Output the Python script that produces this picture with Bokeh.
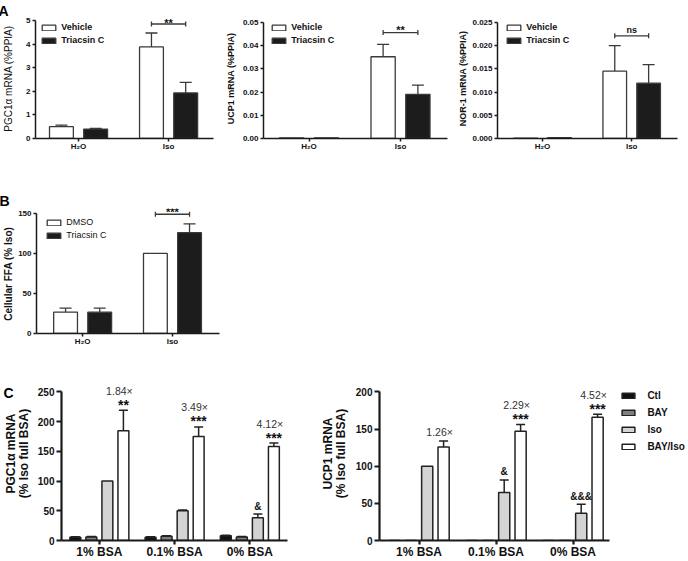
import numpy as np
from bokeh.plotting import figure
from bokeh.models import (ColumnDataSource, FixedTicker, PrintfTickFormatter, Range1d,
                          Legend, LegendItem, Label, Whisker, TeeHead, LinearAxis)
from bokeh.layouts import row, column
from bokeh.embed import file_html
from bokeh.resources import INLINE

# ---------------- data ----------------
a_groups = ["H₂O", "Iso"]
a_series = ["Vehicle", "Triacsin C"]

pgc1a_vehicle = [0.50, 3.88]
pgc1a_vehicle_err = [0.57, 4.47]
pgc1a_triacsin = [0.40, 1.93]
pgc1a_triacsin_err = [0.43, 2.38]

ucp1_vehicle = [0.0003, 0.0352]
ucp1_vehicle_err = [0.0003, 0.0405]
ucp1_triacsin = [0.0003, 0.0190]
ucp1_triacsin_err = [0.0003, 0.0230]

nor1_vehicle = [0.0001, 0.0145]
nor1_vehicle_err = [0.0001, 0.0200]
nor1_triacsin = [0.0002, 0.0119]
nor1_triacsin_err = [0.0002, 0.0159]

a_sig_labels = ["**", "**", "ns"]
a_sig_levels = [4.85, 0.0456, 0.0221]

b_groups = ["H₂O", "Iso"]
b_series = ["DMSO", "Triacsin C"]
ffa_dmso = [26.7, 100.0]
ffa_dmso_err = [31.7, 100.0]
ffa_triacsin = [26.7, 126.0]
ffa_triacsin_err = [31.7, 137.0]
b_sig_label = "***"
b_sig_level = 149.0

c_groups = ["1% BSA", "0.1% BSA", "0% BSA"]
c_series = ["Ctl", "BAY", "Iso", "BAY/Iso"]

pgc1a_c_ctl = [5.5, 5.5, 8.0]
pgc1a_c_ctl_err = [6.3, 6.3, 8.8]
pgc1a_c_bay = [6.0, 7.0, 6.0]
pgc1a_c_bay_err = [6.8, 7.8, 6.8]
pgc1a_c_iso = [100.0, 50.2, 38.3]
pgc1a_c_iso_err = [100.0, 51.5, 44.5]
pgc1a_c_bayiso = [184.5, 175.0, 158.0]
pgc1a_c_bayiso_err = [219.0, 191.0, 164.0]
pgc1a_c_fold = ["1.84×", "3.49×", "4.12×"]
pgc1a_c_stars = ["**", "***", "***"]
pgc1a_c_marks = ["", "", "&"]

ucp1_c_ctl = [0.0, 0.0, 0.0]
ucp1_c_ctl_err = [0.0, 0.0, 0.0]
ucp1_c_bay = [0.0, 0.0, 0.0]
ucp1_c_bay_err = [0.0, 0.0, 0.0]
ucp1_c_iso = [100.0, 64.5, 36.7]
ucp1_c_iso_err = [100.0, 81.5, 48.7]
ucp1_c_bayiso = [126.0, 147.0, 166.0]
ucp1_c_bayiso_err = [134.0, 156.0, 170.0]
ucp1_c_fold = ["1.26×", "2.29×", "4.52×"]
ucp1_c_stars = ["", "***", "***"]
ucp1_c_marks = ["", "&", "&&&"]

# ---------------- layout helpers ----------------
FONT = "Liberation Sans"
INK = "#1a1a1a"
BAR_LINE = "#3a3a3a"


def make_panel(fig, frame, gx0_px, ppx, ytop_val, ytop_px, x_axis_end):
    """fig/frame in page pixels; x: pixel of group 0 and pixels per group;
    y: pixel of the top tick (value 0 sits on the frame bottom)."""
    fx0, fy0, fx1, fy1 = fig
    L, T, R, B = frame
    fl, fr, ft, fb = round(L), round(R), round(T), round(B)
    xr = ((fl - gx0_px) / ppx, (fr - gx0_px) / ppx)
    yr = (0.0, ytop_val * (fb - ft) / (fb - ytop_px))
    p = figure(width=fx1 - fx0, height=fy1 - fy0,
               x_range=Range1d(*xr), y_range=Range1d(*yr),
               min_border_left=fl - fx0, min_border_right=fx1 - fr,
               min_border_top=ft - fy0, min_border_bottom=fy1 - fb,
               toolbar_location=None, tools="", output_backend="svg")
    p.xaxis.bounds = (xr[0], (x_axis_end - gx0_px) / ppx)
    p.yaxis.bounds = (0.0, ytop_val)
    geo = dict(fl=fl, fr=fr, ft=ft, fb=fb, xr=xr, yr=yr)
    return p, geo


def style_axes(p, xticks, xlabels, yticks, yfmt, ylabel, *, tick_size, xlab_size,
               ylab_size, ylab_style, ylab_standoff, axis_w, ytick_out, xtick_out,
               ylab_line_height=1.2):
    p.xgrid.visible = False
    p.ygrid.visible = False
    p.outline_line_color = None
    p.background_fill_color = "white"
    p.border_fill_color = "white"
    xa, ya = p.xaxis[0], p.yaxis[0]
    for ax in (xa, ya):
        ax.axis_line_color = INK
        ax.axis_line_width = axis_w
        ax.major_tick_line_color = INK
        ax.major_tick_line_width = axis_w
        ax.minor_tick_line_color = None
        ax.major_tick_in = 0
        ax.major_label_text_font = FONT
        ax.major_label_text_font_style = "bold"
        ax.major_label_text_color = "#111111"
    ya.ticker = FixedTicker(ticks=yticks)
    ya.formatter = PrintfTickFormatter(format=yfmt)
    ya.major_tick_out = ytick_out
    ya.major_label_standoff = 2
    ya.major_label_text_font_size = tick_size
    ya.axis_label = ylabel
    ya.axis_label_text_font = FONT
    ya.axis_label_text_font_size = ylab_size
    ya.axis_label_text_font_style = ylab_style
    ya.axis_label_text_color = "#111111"
    ya.axis_label_standoff = ylab_standoff
    ya.axis_label_text_line_height = ylab_line_height
    xa.ticker = FixedTicker(ticks=xticks)
    xa.major_label_overrides = {t: l for t, l in zip(xticks, xlabels)}
    xa.major_tick_out = xtick_out
    xa.major_label_standoff = 0
    xa.major_label_text_font_size = xlab_size


def panel_letter(p, letter, geo, x_px):
    p.title.text = letter
    p.title.align = "left"
    p.title.offset = x_px - geo["fl"]
    p.title.standoff = 0
    p.title.text_font = FONT
    p.title.text_font_size = "14px"
    p.title.text_font_style = "bold"
    p.title.text_color = "#000000"


def letter_axis(p, letter, at_value, standoff):
    ax = LinearAxis(ticker=FixedTicker(ticks=[at_value]),
                    major_label_overrides={at_value: letter},
                    axis_line_color=None, major_tick_line_color=None,
                    minor_tick_line_color=None, major_tick_out=0, major_tick_in=0,
                    major_label_standoff=standoff, major_label_text_font=FONT,
                    major_label_text_font_size="14px", major_label_text_font_style="bold",
                    major_label_text_color="#000000")
    p.add_layout(ax, "left")


def add_errbars(p, xs, tops, errs, cap, color, lw):
    sel = [i for i in range(len(tops)) if errs[i] > tops[i]]
    if not sel:
        return
    src = ColumnDataSource(dict(base=[float(xs[i]) for i in sel],
                                lower=[tops[i] for i in sel],
                                upper=[errs[i] for i in sel]))
    p.add_layout(Whisker(source=src, base="base", lower="lower", upper="upper",
                         dimension="height", line_color=color, line_width=lw,
                         lower_head=None,
                         upper_head=TeeHead(size=cap, line_color=color, line_width=lw)))


def add_bracket(p, xa, xb, level, color, lw):
    src = ColumnDataSource(dict(base=[level], lower=[xa], upper=[xb]))
    p.add_layout(Whisker(source=src, base="base", lower="lower", upper="upper",
                         dimension="width", line_color=color, line_width=lw,
                         lower_head=TeeHead(size=5, line_color=color, line_width=lw),
                         upper_head=TeeHead(size=5, line_color=color, line_width=lw)))


def add_text(p, x, y, text, size, style="bold", color="#111111", align="center",
             dx=0, dy=0, baseline="alphabetic"):
    p.add_layout(Label(x=x, y=y, text=text, text_font=FONT, text_font_size=size,
                       text_font_style=style, text_color=color, text_align=align,
                       text_baseline=baseline, x_offset=dx, y_offset=dy))


def add_legend(p, geo, items, left_px, row1_px, *, gw, gh, lh, spacing, standoff,
               size, style):
    n = len(items)
    frame_h = geo["fb"] - geo["ft"]
    rel_x = left_px - geo["fl"] - 0.1 * gw
    row_top = (row1_px - geo["ft"]) - gh / 2
    H = n * lh + (n - 1) * spacing
    vy = frame_h - row_top - H
    leg = Legend(items=items, location=(rel_x, vy), orientation="vertical",
                 glyph_width=gw, glyph_height=gh, label_height=lh, spacing=spacing,
                 label_standoff=standoff, padding=0, margin=0,
                 border_line_color=None, background_fill_alpha=0,
                 label_text_font=FONT, label_text_font_size=size,
                 label_text_font_style=style, label_text_color="#111111")
    p.add_layout(leg)


# ---------------- panel A ----------------
A_OFF, A_W = 0.19, 0.265


def panel_a(fig, frame, gx0_px, ppx, ytop_px, x_end, veh, veh_err, tri, tri_err,
            yticks, yfmt, ylabel, ylab_size, ylab_style, ylab_standoff, sig_text,
            sig_level, sig_size, sig_dy, leg_left, leg_row1):
    p, geo = make_panel(fig, frame, gx0_px, ppx, yticks[-1], ytop_px, x_end)
    style_axes(p, [0, 1], a_groups, yticks, yfmt, ylabel, tick_size="8px",
               xlab_size="8px", ylab_size=ylab_size, ylab_style=ylab_style,
               ylab_standoff=ylab_standoff, axis_w=1.5, ytick_out=3, xtick_out=3)
    xs = np.arange(len(a_groups))
    r_v = p.vbar(x=xs - A_OFF, top=veh, width=A_W, fill_color="white",
                 line_color=BAR_LINE, line_width=1.3)
    r_t = p.vbar(x=xs + A_OFF, top=tri, width=A_W, fill_color="#1c1c1c",
                 line_color=BAR_LINE, line_width=1.3)
    add_errbars(p, xs - A_OFF, veh, veh_err, 12, BAR_LINE, 1.3)
    add_errbars(p, xs + A_OFF, tri, tri_err, 12, BAR_LINE, 1.3)
    add_bracket(p, 1 - A_OFF, 1 + A_OFF, sig_level, BAR_LINE, 1.3)
    add_text(p, 1.0, sig_level, sig_text, sig_size, dy=sig_dy)
    items = [LegendItem(label=a_series[0], renderers=[r_v]),
             LegendItem(label=a_series[1], renderers=[r_t])]
    add_legend(p, geo, items, leg_left, leg_row1, gw=17, gh=7, lh=11, spacing=2,
               standoff=4, size="9px", style="bold")
    return p, geo


pA1, gA1 = panel_a((0, 0, 222, 190), (33, 17, 222, 139), 76.5, 91.0, 19, 213,
                   pgc1a_vehicle, pgc1a_vehicle_err, pgc1a_triacsin, pgc1a_triacsin_err,
                   [0, 1, 2, 3, 4, 5], "%d", "PGC1α mRNA (%PPIA)", "10px", "normal", 9,
                   a_sig_labels[0], a_sig_levels[0], "11px", 1.5, 40, 26)
panel_letter(pA1, "A", gA1, -4)

pA2, gA2 = panel_a((222, 0, 455, 190), (263, 14, 455, 138.5), 308.5, 91.5, 18, 447,
                   ucp1_vehicle, ucp1_vehicle_err, ucp1_triacsin, ucp1_triacsin_err,
                   [0, 0.01, 0.02, 0.03, 0.04, 0.05], "%.2f", "UCP1 mRNA (%PPIA)",
                   "9px", "bold", 4, a_sig_labels[1], a_sig_levels[1], "11px", 2.5,
                   272, 25)

pA3, gA3 = panel_a((455, 0, 688, 190), (493, 14, 688, 138), 539.0, 91.0, 18, 677,
                   nor1_vehicle, nor1_vehicle_err, nor1_triacsin, nor1_triacsin_err,
                   [0, 0.005, 0.01, 0.015, 0.02, 0.025], "%.3f", "NOR-1 mRNA (%PPIA)",
                   "9px", "bold", 1, a_sig_labels[2], a_sig_levels[2], "9px", 5.5,
                   503, 25)

# ---------------- panel B ----------------
pB, gB = make_panel((0, 190, 250, 360), (32, 207, 250, 333), 79.0, 91.5, 150, 212, 218)
style_axes(pB, [0, 1], b_groups, [0, 50, 100, 150], "%d", "Cellular FFA  (%  Iso)",
           tick_size="8px", xlab_size="8px", ylab_size="10px", ylab_style="bold",
           ylab_standoff=1, axis_w=1.5, ytick_out=3, xtick_out=3)
xsB = np.arange(len(b_groups))
rB1 = pB.vbar(x=xsB - A_OFF, top=ffa_dmso, width=A_W, fill_color="white",
              line_color=BAR_LINE, line_width=1.3)
rB2 = pB.vbar(x=xsB + A_OFF, top=ffa_triacsin, width=A_W, fill_color="#1c1c1c",
              line_color=BAR_LINE, line_width=1.3)
add_errbars(pB, xsB - A_OFF, ffa_dmso, ffa_dmso_err, 12, BAR_LINE, 1.3)
add_errbars(pB, xsB + A_OFF, ffa_triacsin, ffa_triacsin_err, 12, BAR_LINE, 1.3)
add_bracket(pB, 1 - A_OFF, 1 + A_OFF, b_sig_level, BAR_LINE, 1.3)
add_text(pB, 1.0, b_sig_level, b_sig_label, "11px", dy=1.8)
add_legend(pB, gB, [LegendItem(label=b_series[0], renderers=[rB1]),
                    LegendItem(label=b_series[1], renderers=[rB2])],
           43, 220, gw=17, gh=7, lh=11, spacing=2, standoff=4, size="9px",
           style="normal")
panel_letter(pB, "B", gB, -5)

# ---------------- panel C ----------------
C_OFF = (np.arange(4) - 1.5) * 0.213
C_W = 0.145
C_FILLS = ["#111111", "#7f7f7f", "#d4d4d4", "white"]


def panel_c(fig, frame, gx0_px, ppx, ytop_px, x_end, vals, errs, yticks, ylabel,
            ylab_standoff, folds, stars, marks):
    p, geo = make_panel(fig, frame, gx0_px, ppx, yticks[-1], ytop_px, x_end)
    style_axes(p, [0, 1, 2], c_groups, yticks, "%d", ylabel, tick_size="10px",
               xlab_size="12px", ylab_size="12px", ylab_style="bold",
               ylab_standoff=ylab_standoff, axis_w=2.2, ytick_out=5, xtick_out=4,
               ylab_line_height=0.95)
    xs = np.arange(len(c_groups))
    rs = []
    for k in range(len(c_series)):
        rs.append(p.vbar(x=xs + C_OFF[k], top=vals[k], width=C_W,
                         fill_color=C_FILLS[k], line_color="#222222", line_width=1.5))
        add_errbars(p, xs + C_OFF[k], vals[k], errs[k], 9, "#222222", 1.5)
    for g in range(len(c_groups)):
        xb = xs[g] + C_OFF[3]
        top = errs[3][g]
        if stars[g]:
            add_text(p, xb, top, stars[g], "14px", dy=5.5)
            add_text(p, xb, top, folds[g], "10.5px", "normal", "#333333", dx=-4, dy=19.5)
        else:
            add_text(p, xb, top, folds[g], "10.5px", "normal", "#333333", dx=-4, dy=8.8)
        if marks[g]:
            add_text(p, xs[g] + C_OFF[2], errs[2][g], marks[g], "10px", dy=8)
    return p, geo, rs


pC1, gC1, _ = panel_c((0, 360, 300, 561), (57, 366, 300, 544.5), 95.5, 76.5, 392, 287,
                      [pgc1a_c_ctl, pgc1a_c_bay, pgc1a_c_iso, pgc1a_c_bayiso],
                      [pgc1a_c_ctl_err, pgc1a_c_bay_err, pgc1a_c_iso_err, pgc1a_c_bayiso_err],
                      [0, 50, 100, 150, 200, 250], "PGC1α mRNA\n(% Iso full BSA)", 4,
                      pgc1a_c_fold, pgc1a_c_stars, pgc1a_c_marks)
letter_axis(pC1, "C", 248, -13)

pC2, gC2, rsC2 = panel_c((300, 360, 688, 561), (379, 366, 688, 544), 418.5, 77.0, 392, 609,
                         [ucp1_c_ctl, ucp1_c_bay, ucp1_c_iso, ucp1_c_bayiso],
                         [ucp1_c_ctl_err, ucp1_c_bay_err, ucp1_c_iso_err, ucp1_c_bayiso_err],
                         [0, 50, 100, 150, 200], "UCP1 mRNA\n(% Iso full BSA)", 5,
                         ucp1_c_fold, ucp1_c_stars, ucp1_c_marks)
add_legend(pC2, gC2, [LegendItem(label=s, renderers=[r]) for s, r in zip(c_series, rsC2)],
           622, 397, gw=16, gh=7, lh=12, spacing=5, standoff=11, size="10px",
           style="bold")

layout = column(row(pA1, pA2, pA3), pB, row(pC1, pC2))
open("out.html", "w").write(file_html(layout, INLINE))
